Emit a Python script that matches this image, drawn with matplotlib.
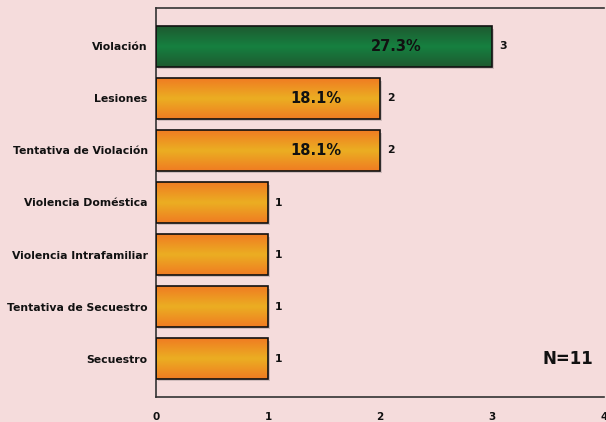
import numpy as np
import matplotlib
matplotlib.use("Agg")
import matplotlib.pyplot as plt
from matplotlib.colors import LinearSegmentedColormap

categories = ["Violación", "Lesiones", "Tentativa de Violación", "Violencia Doméstica",
              "Violencia Intrafamiliar", "Tentativa de Secuestro", "Secuestro"]
values = [3, 2, 2, 1, 1, 1, 1]
percent_labels = ["27.3%", "18.1%", "18.1%", "", "", "", ""]
x_ticks = [0, 1, 2, 3, 4]
n_label = "N=11"

bg = "#F5DCDC"
fig = plt.figure(figsize=(6.06, 4.22), dpi=100, facecolor=bg)
ax = fig.add_axes([156/606, 25/422, 448/606, 389/422])
ax.set_facecolor(bg)

ypos = np.arange(len(categories))
bars = ax.barh(ypos, values, height=0.77, color="none", edgecolor="#111111", linewidth=1.2, zorder=3)
ax.set_ylim(len(categories) - 0.26, -0.74)
ax.set_xlim(0, 4)

orange = LinearSegmentedColormap.from_list("o", ["#F07C22", "#EBAE22", "#F07C22"])
green = LinearSegmentedColormap.from_list("g", ["#1E5A30", "#168040", "#1E5A30"])
grad = np.linspace(0, 1, 100).reshape(-1, 1)
for i, (b, v) in enumerate(zip(bars, values)):
    cmap = green if i == 0 else orange
    x0, y0 = b.get_x(), b.get_y()
    w, h = b.get_width(), b.get_height()
    # shadow
    ax.barh(ypos[i] + 0.04, v, height=0.77, left=0.015, color="#B8A8A8", alpha=0.6, zorder=1, linewidth=0)
    im = ax.imshow(grad, aspect="auto", cmap=cmap, extent=(x0, x0 + w, y0 + h, y0), zorder=2, interpolation="bicubic")
    im.set_clip_path(b)
    ax.text(v + 0.065, ypos[i], str(v), ha="left", va="center", fontsize=7.8, fontweight="bold", color="#111111", zorder=4)
    if percent_labels[i]:
        ax.text(v * 0.715, ypos[i], percent_labels[i], ha="center", va="center", fontsize=10.5, fontweight="bold", color="#111111", zorder=4)

ax.set_xlim(0, 4)
ax.set_ylim(len(categories) - 0.26, -0.74)
ax.set_yticks(ypos)
ax.set_yticklabels(categories, fontsize=7.8, fontweight="bold", color="#111111")
ax.set_xticks(x_ticks)
ax.set_xticklabels([str(t) for t in x_ticks], fontsize=7.5, fontweight="bold", color="#111111")
ax.tick_params(axis="y", length=0, pad=6)
ax.tick_params(axis="x", length=0, pad=11)
for s in ["left", "bottom", "top"]:
    ax.spines[s].set_color("#333333")
    ax.spines[s].set_linewidth(1.2)
ax.spines["right"].set_visible(False)

ax.text(3.9, 6.0, n_label, ha="right", va="center", fontsize=12, fontweight="bold", color="#111111")

fig.savefig("out.png", dpi=100, facecolor=bg)
